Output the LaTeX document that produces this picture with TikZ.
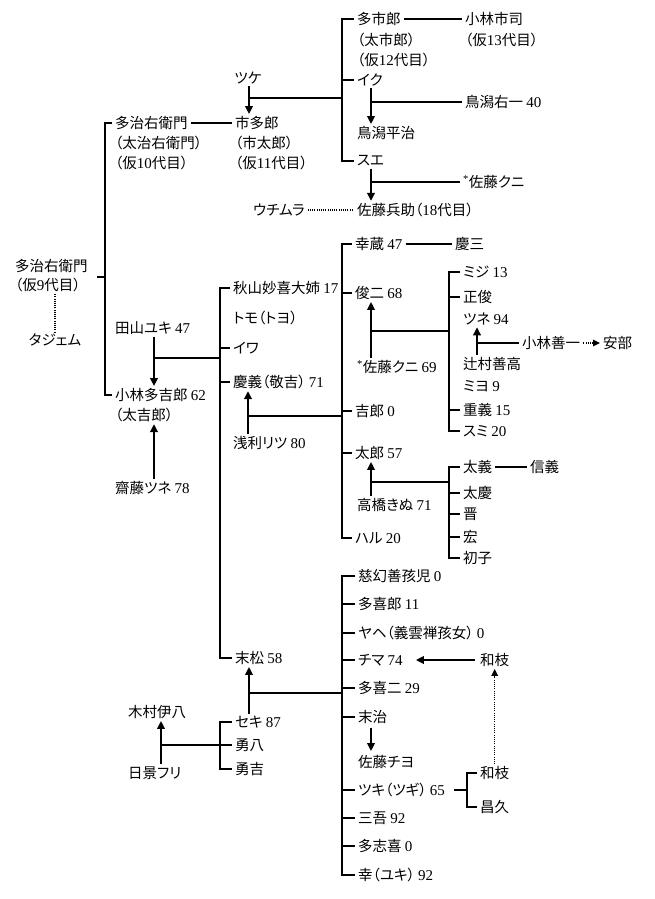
\documentclass[tikz,border=0pt]{standalone}
\usepackage{fontspec}
\setmainfont{Noto Sans CJK JP}[RawFeature=+palt]
\newfontfamily\lat{Liberation Serif}
\usetikzlibrary{arrows.meta}
\newcommand\N[1]{{\lat\fontsize{15}{18}\selectfont #1}}
\tikzset{
  t/.style={anchor=west, inner xsep=3pt, inner ysep=2pt, font=\fontsize{14.5}{18}\selectfont},
  br/.style={line width=2.9pt, line join=miter},
  con/.style={line width=2.3pt},
  arr/.style={line width=2.3pt, -{Triangle[length=8pt,width=7.5pt]}},
  dot/.style={line width=1.4pt, dash pattern=on 1pt off 1.2pt},
  darr/.style={line width=1.4pt, dash pattern=on 1pt off 1.2pt, -{Triangle[length=7pt,width=6.5pt]}}
}
\begin{document}
\begin{tikzpicture}[x=1pt,y=-1pt]
\fill[white] (0,0) rectangle (655,899);
\useasboundingbox (0,0) rectangle (655,899);
% bus x positions and junctions
\coordinate (xA) at (105,0);
\coordinate (xB) at (342,0);
\coordinate (xC) at (220,0);
\coordinate (xF) at (449,0);
\coordinate (xI) at (467,0);
\coordinate (xS) at (371,0);
\coordinate (j9) at (97,277);
\coordinate (jTsuke) at (249,98);
\coordinate (jIku) at (371,102);
\coordinate (jSue) at (371,182);
\coordinate (jTayama) at (154,358);
\coordinate (jAsari) at (248,416);
\coordinate (jKuni) at (371,331);
\coordinate (jTsuji) at (477,343);
\coordinate (jTaka) at (371,482);
\coordinate (jSeki) at (249,693);
\coordinate (jHikage) at (161,745);

% generation 9
\node[t] (r9) at (12,266) {多治右衛門};
\node[t] (r9b) at (12,285) {（仮\N{9}代目）};
\node[t,anchor=center] (taji) at (55,340) {タジェム};
% generation 10
\node[t] (n10) at (112,123) {多治右衛門};
\node[t] (n10b) at (112,143) {（太治右衛門）};
\node[t] (n10c) at (112,163) {（仮\N{10}代目）};
\node[t] (tayama) at (112,328) {田山ユキ \N{47}};
\node[t] (kt) at (112,395) {小林多吉郎 \N{62}};
\node[t] (ktb) at (112,415) {（太吉郎）};
\node[t] (saito) at (112,488) {齋藤ツネ \N{78}};
% generation 11 (top)
\node[t,anchor=center] (tsuke) at (248,78) {ツケ};
\node[t] (n11) at (232,123) {市多郎};
\node[t] (n11b) at (232,143) {（市太郎）};
\node[t] (n11c) at (232,163) {（仮\N{11}代目）};
\node[t] (ichi) at (354,19) {多市郎};
\node[t] (ichib) at (354,40) {（太市郎）};
\node[t] (ichic) at (354,60) {（仮\N{12}代目）};
\node[t] (kobaichi) at (462,19) {小林市司};
\node[t] (kobaichib) at (462,40) {（仮\N{13}代目）};
\node[t] (iku) at (354,80) {イク};
\node[t] (toriu) at (462,102) {鳥潟右一 \N{40}};
\node[t] (torihei) at (354,133) {鳥潟平治};
\node[t] (sue) at (354,161) {スエ};
\node[t] (kuni1) at (460,182) {\N{\textsuperscript{*}}佐藤クニ};
\node[t] (hyosuke) at (354,210) {佐藤兵助（\N{18}代目）};
\node[t] (uchi) at (250,210) {ウチムラ};
% generation 11 (bottom)
\node[t] (akiyama) at (230,288) {秋山妙喜大姉 \N{17}};
\node[t] (tomo) at (230,318) {トモ（トヨ）};
\node[t] (iwa) at (230,348) {イワ};
\node[t] (keigi) at (230,382) {慶義（敬吉） \N{71}};
\node[t] (asari) at (230,443) {浅利リツ \N{80}};
\node[t] (suematsu) at (232,658) {末松 \N{58}};
\node[t] (seki) at (232,722) {セキ \N{87}};
\node[t] (yuhachi) at (232,745) {勇八};
\node[t] (yukichi) at (232,769) {勇吉};
\node[t] (kimura) at (125,712) {木村伊八};
\node[t] (hikage) at (125,773) {日景フリ};
% keigi children
\node[t] (kozo) at (352,244) {幸蔵 \N{47}};
\node[t] (keizo) at (452,244) {慶三};
\node[t] (shunji) at (352,293) {俊二 \N{68}};
\node[t] (kuni2) at (354,367) {\N{\textsuperscript{*}}佐藤クニ \N{69}};
\node[t] (kichiro) at (352,411) {吉郎 \N{0}};
\node[t] (taro) at (352,453) {太郎 \N{57}};
\node[t] (takahashi) at (354,505) {高橋きぬ \N{71}};
\node[t] (haru) at (352,538) {ハル \N{20}};
% shunji children
\node[t] (miji) at (460,272) {ミジ \N{13}};
\node[t] (masatoshi) at (460,297) {正俊};
\node[t] (tsune) at (460,319) {ツネ \N{94}};
\node[t] (tsujimura) at (460,364) {辻村善高};
\node[t] (miyo) at (460,386) {ミヨ \N{9}};
\node[t] (shigeyoshi) at (460,410) {重義 \N{15}};
\node[t] (sumi) at (460,431) {スミ \N{20}};
\node[t] (zenichi) at (519,343) {小林善一};
\node[t] (abe) at (600,343) {安部};
% taro children
\node[t] (taigi) at (460,467) {太義};
\node[t] (shingi) at (527,467) {信義};
\node[t] (taikei) at (460,493) {太慶};
\node[t] (shin) at (460,514) {晋};
\node[t] (hiro) at (460,537) {宏};
\node[t] (hatsuko) at (460,558) {初子};
% suematsu children
\node[t] (jigen) at (355,576) {慈幻善孩児 \N{0}};
\node[t] (takiro) at (355,604) {多喜郎 \N{11}};
\node[t] (yahe) at (355,633) {ヤヘ（義雲禅孩女） \N{0}};
\node[t] (chima) at (355,660) {チマ \N{74}};
\node[t] (takiji) at (355,688) {多喜二 \N{29}};
\node[t] (sueji) at (355,717) {末治};
\node[t] (chiyo) at (355,762) {佐藤チヨ};
\node[t] (tsuki) at (355,790) {ツキ（ツギ） \N{65}};
\node[t] (sango) at (355,818) {三吾 \N{92}};
\node[t] (tashiki) at (355,846) {多志喜 \N{0}};
\node[t] (yuki) at (355,875) {幸（ユキ） \N{92}};
\node[t] (kazue) at (477,660) {和枝};
\node[t] (kazueb) at (477,773) {和枝};
\node[t] (masahisa) at (477,807) {昌久};

% ---- connectors ----
% gen 9 -> 10
\draw[br] (n10.west) -- (n10.west -| xA) -- (kt.west -| xA) -- (kt.west);
\draw[con] (j9) -- (j9 -| xA);
\draw[dot] (r9b.south -| taji) -- (taji.north);
\draw[con] (n10.east) -- (n11.west);
% ichitaro family
\draw[br] (ichi.west) -- (ichi.west -| xB) -- (sue.west -| xB) -- (sue.west);
\draw[con] (iku.west -| xB) -- (iku.west);
\draw[con] (ichi.east) -- (kobaichi.west);
\draw[con] (jTsuke) -- (jTsuke -| xB);
\draw[arr] (tsuke.south -| jTsuke) -- (n11.north -| jTsuke);
\draw[con] (jIku) -- (toriu.west);
\draw[arr] (iku.south -| jIku) -- (torihei.north -| jIku);
\draw[con] (jSue) -- (kuni1.west);
\draw[arr] (sue.south -| jSue) -- (hyosuke.north -| jSue);
\draw[dot] (uchi.east) -- (hyosuke.west);
% kobayashi takichiro family
\draw[br] (akiyama.west) -- (akiyama.west -| xC) -- (suematsu.west -| xC) -- (suematsu.west);
\draw[con] (iwa.west -| xC) -- (iwa.west);
\draw[con] (keigi.west -| xC) -- (keigi.west);
\draw[con] (jTayama) -- (jTayama -| xC);
\draw[arr] (tayama.south -| jTayama) -- (kt.north -| jTayama);
\draw[arr] (saito.north -| jTayama) -- (ktb.south -| jTayama);
% keigi family
\draw[con] (jAsari) -- (jAsari -| xB);
\draw[arr] (asari.north -| jAsari) -- (keigi.south -| jAsari);
\draw[br] (kozo.west) -- (kozo.west -| xB) -- (haru.west -| xB) -- (haru.west);
\draw[con] (shunji.west -| xB) -- (shunji.west);
\draw[con] (kichiro.west -| xB) -- (kichiro.west);
\draw[con] (taro.west -| xB) -- (taro.west);
\draw[con] (kozo.east) -- (keizo.west);
% shunji family
\draw[con] (jKuni) -- (jKuni -| xF);
\draw[arr] (kuni2.north -| jKuni) -- (shunji.south -| jKuni);
\draw[br] (miji.west) -- (miji.west -| xF) -- (sumi.west -| xF) -- (sumi.west);
\draw[con] (masatoshi.west -| xF) -- (masatoshi.west);
\draw[con] (shigeyoshi.west -| xF) -- (shigeyoshi.west);
\draw[con] (jTsuji) -- (zenichi.west);
\draw[arr] (tsujimura.north -| jTsuji) -- (tsune.south -| jTsuji);
\draw[darr] (zenichi.east) -- (abe.west);
% taro family
\draw[con] (jTaka) -- (jTaka -| xF);
\draw[arr] (takahashi.north -| jTaka) -- (taro.south -| jTaka);
\draw[br] (taigi.west) -- (taigi.west -| xF) -- (hatsuko.west -| xF) -- (hatsuko.west);
\draw[con] (taikei.west -| xF) -- (taikei.west);
\draw[con] (shin.west -| xF) -- (shin.west);
\draw[con] (hiro.west -| xF) -- (hiro.west);
\draw[con] (taigi.east) -- (shingi.west);
% suematsu family
\draw[con] (jSeki) -- (jSeki -| xB);
\draw[arr] (seki.north -| jSeki) -- (suematsu.south -| jSeki);
\draw[br] (jigen.west) -- (jigen.west -| xB) -- (yuki.west -| xB) -- (yuki.west);
\draw[con] (takiro.west -| xB) -- (takiro.west);
\draw[con] (yahe.west -| xB) -- (yahe.west);
\draw[con] (chima.west -| xB) -- (chima.west);
\draw[con] (takiji.west -| xB) -- (takiji.west);
\draw[con] (sueji.west -| xB) -- (sueji.west);
\draw[con] (tsuki.west -| xB) -- (tsuki.west);
\draw[con] (sango.west -| xB) -- (sango.west);
\draw[con] (tashiki.west -| xB) -- (tashiki.west);
\draw[arr, shorten <=2pt, shorten >=2pt] (sueji.south -| xS) -- (chiyo.north -| xS);
\draw[arr, shorten <=2pt, shorten >=10pt] (kazue.west) -- (chima.east);
\draw[darr] (kazueb.north) -- (kazue.south);
\draw[br] (kazueb.west) -- (kazueb.west -| xI) -- (masahisa.west -| xI) -- (masahisa.west);
\draw[con, shorten <=6pt] (tsuki.east) -- (tsuki.east -| xI);
% seki siblings
\draw[br] (seki.west) -- (seki.west -| xC) -- (yukichi.west -| xC) -- (yukichi.west);
\draw[con] (yuhachi.west -| xC) -- (yuhachi.west);
\draw[con] (jHikage) -- (jHikage -| xC);
\draw[arr] (hikage.north -| jHikage) -- (kimura.south -| jHikage);
\end{tikzpicture}
\end{document}
